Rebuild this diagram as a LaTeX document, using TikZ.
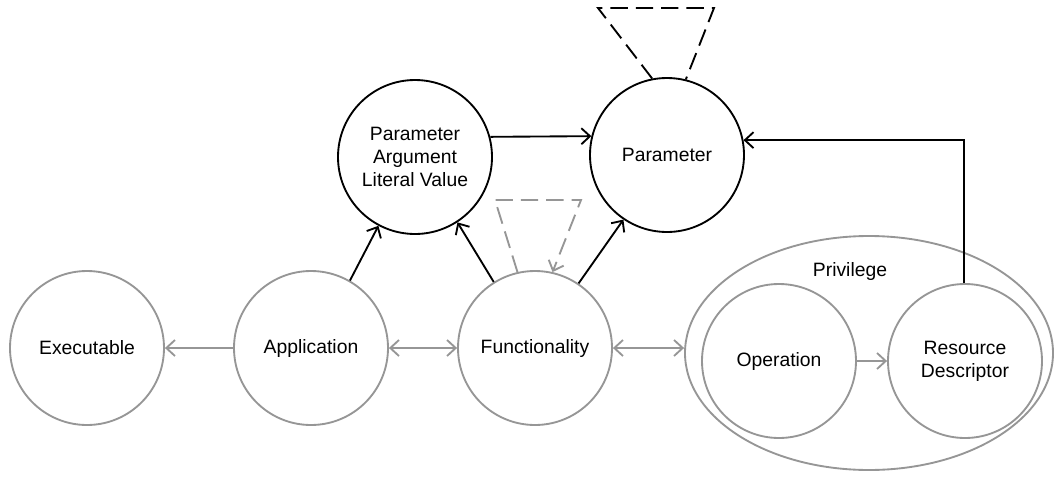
\documentclass[tikz,border=0pt]{standalone}
\usepackage{fontspec}
\setmainfont{Liberation Sans}
\usetikzlibrary{arrows.meta,shapes.geometric}
\definecolor{cg}{RGB}{150,150,150}
\begin{document}
\begin{tikzpicture}[x=0.75pt,y=-0.75pt,
  >={Straight Barb[length=6.5pt,width=12pt]},
  lbl/.style={font=\fontsize{14.5}{17.25}\selectfont, align=center},
  circ/.style={circle, draw, line width=1.4pt, minimum size=115.5pt, inner sep=0pt, lbl},
  graycirc/.style={circ, draw=cg},
  blackcirc/.style={circ, draw=black},
  garrow/.style={draw=cg, line width=1.4pt},
  barrow/.style={draw=black, line width=1.4pt},
  dloop/.style={line width=1.4pt, dash pattern=on 13pt off 6pt}
]
\useasboundingbox (0,0) rectangle (1054,479);

\node[ellipse, draw=cg, line width=1.4pt, minimum width=276pt, minimum height=175.5pt] (priv) at (869,353) {};
\node[lbl] (privlbl) at (850,271) {Privilege};

\node[graycirc] (exe) at (87,348) {Executable};
\node[graycirc] (app) at (311,348) {Application};
\node[graycirc] (fun) at (535,348) {Functionality};
\node[graycirc] (op) at (779,361) {Operation};
\node[graycirc] (rd) at (965,361) {Resource\\Descriptor};
\node[blackcirc] (palv) at (415,157) {Parameter\\Argument\\Literal Value};
\node[blackcirc] (par) at (667,155) {Parameter};

% gray connectors
\draw[garrow,->] (app) -- (exe);
\draw[garrow,<->] (app) -- (fun);
\draw[garrow,<->] (fun.east) -- (priv.west |- fun.east);
\draw[garrow,->] (op) -- (rd);

% black connectors
\draw[barrow,->] (app.60.7) -- (palv.242.4);
\draw[barrow,->] (fun.122) -- (palv.303);
\draw[barrow,->] (fun.56.5) -- (par.236);
\draw[barrow,->] (palv.15) -- (par.166.5);
\draw[barrow,->] (rd.91) |- (par.11);

% dashed self loops
\coordinate (pl1) at (598,8);
\coordinate (pl2) at (714,8);
\draw[dloop, draw=black] (par.101) -- (pl1) -- (pl2) -- (par.76.5);
\coordinate (fl1) at (495,200);
\coordinate (fl2) at (581,200);
\draw[dloop, draw=cg, ->] (fun.103) -- (fl1) -- (fl2) -- (fun.77);
\end{tikzpicture}
\end{document}
